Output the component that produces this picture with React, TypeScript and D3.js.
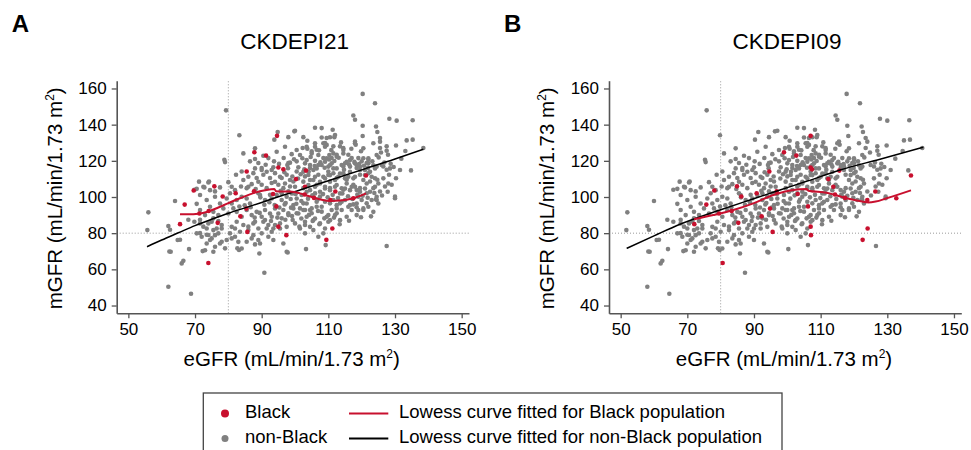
import { useEffect, useRef } from "react";
import * as d3 from "d3";

// non-Black participants: [eGFR CKDEPI21, eGFR CKDEPI09, mGFR]
const nonBlackPoints: [number, number, number][] = [
  [79.3, 75.8, 147.9], [83.3, 79.8, 134.1], [94.8, 91.3, 135.9], [93.8, 90.3, 131.7], [98, 94.5, 133.1],
  [99.8, 96.3, 136.3], [78.8, 75.3, 120.6], [79, 75.5, 119.3], [86.5, 83, 119.7], [88, 84.5, 121],
  [90.5, 87, 122.8], [92, 88.5, 121.5], [89, 85.5, 118.8], [90, 86.5, 116], [93.5, 90, 116.4],
  [98, 94.5, 118.8], [99, 95.5, 123.7], [82.3, 78.8, 112.3], [84, 80.5, 114.1], [87.5, 84, 113.2],
  [88.5, 85, 110.5], [90.5, 87, 112.3], [92.5, 89, 110.5], [94, 90.5, 113.2], [96, 92.5, 110.5],
  [97.5, 94, 112.3], [99.5, 96, 108.6], [74.2, 70.7, 108.6], [72.8, 69.3, 105.3], [70.5, 67, 104.5],
  [77.5, 74, 105.3], [76, 72.5, 103.1], [80, 76.5, 108.2], [83.8, 80.3, 105.8], [85.5, 82, 104.9],
  [87, 83.5, 107.1], [90, 86.5, 106.8], [91.5, 88, 104.9], [93, 89.5, 107.7], [95, 91.5, 106.8],
  [96.5, 93, 104.9], [98.5, 95, 105.8], [98, 94.5, 103.1], [80.5, 77, 102.1], [89, 85.5, 102.1],
  [92.5, 89, 101.2], [96, 92.5, 102.1],
  [120.3, 117.8, 157], [124, 121.8, 151.8], [117.5, 114.5, 145.1], [118, 115, 142.7], [120.3, 118, 139.4],
  [124.3, 122.3, 139], [128.3, 127.8, 143.3], [130.5, 130, 142.2], [135.3, 136.6, 142.4], [108, 105, 138.1],
  [111.3, 108.3, 137.2], [100, 97, 136.6], [102.5, 99.5, 133.1], [120.3, 118.3, 133.7], [124.7, 122.7, 135.9],
  [125.5, 123.5, 132.6], [133.5, 135, 131.3], [135.3, 136.8, 131.7], [130.3, 129.8, 128.5], [127.5, 127, 128],
  [125.5, 123.5, 127.1], [127.5, 127, 125.6], [138.5, 140.5, 127.1], [134.8, 136.3, 114.7], [130.3, 129.8, 110.4],
  [128.2, 127.7, 112.3], [129, 128.5, 106.8], [124.7, 122.7, 109.5], [122, 120, 120.6], [118, 115.5, 130.7],
  [118.2, 115.7, 128.9], [111.8, 108.8, 133.1], [111.5, 108.5, 128], [110.5, 107.5, 133], [109.5, 106.5, 132.6],
  [113.5, 110.5, 128], [114.5, 111.5, 127], [103.7, 100.7, 131.1], [102.3, 99.3, 127.1], [103.7, 100.7, 126.7],
  [106.5, 103.5, 126.1], [105, 102, 125.2], [108, 105, 132.9], [109, 106, 129.8], [111, 108, 121.5],
  [112.5, 109.5, 123.4], [116, 113, 123.4], [117, 114, 121.5], [119, 116.5, 121.5], [120, 118, 119.7],
  [121.5, 119.5, 118.8], [123.5, 121.5, 117.5], [126.5, 126, 116.9], [127.5, 127, 115.1], [124, 122, 110.4],
  [122.5, 120.5, 108.6], [127, 126.5, 105.8], [119.5, 117.5, 112.3], [118.5, 116, 116], [114.5, 111.5, 116.9],
  [108.5, 105.5, 121.5], [106, 103, 120], [104.5, 101.5, 116], [100.5, 97.5, 119.7], [100.5, 97.5, 114.1],
  [103, 100, 111.4], [107, 104, 112.3], [110, 107, 114.1], [112.5, 109.5, 110.5], [115.5, 112.5, 109.5],
  [117.5, 114.5, 106.8], [114.5, 111.5, 104], [110.5, 107.5, 104.9], [106.5, 103.5, 106.8], [102.5, 99.5, 104.9],
  [99.5, 96, 102.1], [119.5, 117.5, 104.9], [123.5, 121.5, 104.9], [121.5, 119.5, 102.1], [125.5, 124, 103],
  [112, 109, 134.3], [108.5, 105.5, 129.7], [109.5, 106.5, 128.8], [106, 103, 127.8], [125.5, 124, 130.6],
  [105, 102, 124.1], [107, 104, 123.2], [110.3, 107.3, 123.2], [111.5, 108.5, 124.1], [112.5, 109.5, 122.3],
  [114.5, 111.5, 124.1], [120.5, 118.5, 121.4], [122, 120, 118.6], [124.5, 122.5, 116.8], [126, 125, 117.7],
  [128.5, 128, 115.8], [131.5, 131, 114.9], [103, 100, 118.6], [108, 105, 117.7], [109, 106, 119.5],
  [110, 107, 116.8], [111, 108, 118.6], [112.5, 109.5, 115.8], [114, 111, 117.7], [115.5, 112.5, 119.5],
  [116.5, 113.5, 116.8], [118, 115, 118.6], [119.5, 117, 116.8], [121, 119, 114.9], [122, 120, 113.1],
  [123, 121, 111.2], [125, 123, 107.5], [126.5, 126, 110.3], [128, 127.5, 107.5], [130, 129.5, 100.2],
  [124.5, 122.5, 98.3], [102.5, 99.5, 114], [104, 101, 112.2], [105.5, 102.5, 114.9], [108.5, 105.5, 111.2],
  [110, 107, 112.2], [111.5, 108.5, 113.1], [113, 110, 111.2], [114.5, 111.5, 113.1], [116, 113, 111.2],
  [117.5, 114.5, 110.3], [120.5, 118.5, 109.4], [121.5, 119.5, 107.5], [102.5, 99.5, 108.5], [104, 101, 106.6],
  [105.5, 102.5, 109.4], [107.5, 104.5, 107.5], [109, 106, 105.7], [110.5, 107.5, 108.5], [112.5, 109.5, 106.6],
  [114, 111, 104.8], [115.5, 112.5, 107.5], [117, 114, 105.7], [118.5, 116, 103.9], [122.5, 120.5, 102.9],
  [119, 116.5, 100.2], [103.5, 100.5, 102.9], [106, 103, 102], [107.5, 104.5, 100.2], [109, 106, 97.4],
  [110.5, 107.5, 96.5], [111.5, 108.5, 98.3], [113.5, 110.5, 96.5], [115, 112, 98.3], [116.5, 113.5, 95.6],
  [118.5, 116, 94.3], [120.5, 118.5, 92.8], [121.5, 119.5, 96.5], [102.5, 99.5, 96.5], [104.5, 101.5, 92.8],
  [103.5, 100.5, 89.1], [106.5, 103.5, 94.6], [108, 105, 91.9], [109.5, 106.5, 89.1], [105.5, 102.5, 87.3],
  [103, 100, 84.5], [107.5, 104.5, 85.4], [110, 107, 86.3], [114, 111, 92.8], [112.5, 109.5, 91],
  [88, 84.5, 115.8], [90, 86.5, 114.9], [86, 82.5, 111.2], [91.5, 88, 114], [93, 89.5, 114.9],
  [97.7, 94.2, 117.7], [98.5, 95, 119], [101, 98, 116.4], [103.5, 100.5, 120.4], [106, 103, 129.7],
  [109, 106, 127.8], [107, 104, 117.7], [109.5, 106.5, 121.4], [114.5, 111.5, 126], [116.5, 113.5, 120.4],
  [118, 115, 129.7], [120.5, 118.5, 126.9], [123.5, 121.5, 129.7], [72.5, 69, 105.7], [74.5, 71, 103.8],
  [81, 77.5, 105.7], [82, 78.5, 103.8], [84.5, 81, 109.4], [86, 82.5, 105.7], [89, 85.5, 108.4],
  [94, 90.5, 108.4], [95.5, 92, 111.2], [97, 93.5, 107.5], [98.5, 95, 109.4], [100, 96.5, 105.7],
  [71.5, 68, 101.1], [73.5, 70, 98.3], [76, 72.5, 100.1], [77.5, 74, 96.4], [79.5, 76, 99.2],
  [81, 77.5, 96.4], [82.5, 79, 98.3], [84, 80.5, 100.1], [85.5, 82, 99.2], [86.5, 83, 96.4],
  [89.5, 86, 101.1], [91, 87.5, 98.3], [93, 89.5, 99.2], [94.5, 91, 101.1], [96, 92.5, 98.3],
  [97.5, 94, 100.1], [99, 95.5, 102], [100.5, 97, 99.2], [102, 99, 101.1], [71.5, 68, 92.8],
  [73, 69.5, 90], [74.5, 71, 94.6], [75.5, 72, 91.8], [77, 73.5, 90], [78.5, 75, 93.7],
  [80, 76.5, 90.9], [81.5, 78, 93.7], [82.5, 79, 91.8], [84, 80.5, 89.1], [85.5, 82, 92.8],
  [87, 83.5, 90], [88.5, 85, 91.8], [90, 86.5, 89.1], [91, 87.5, 92.8], [92.5, 89, 90.9],
  [94, 90.5, 93.7], [95, 91.5, 90.9], [96.5, 93, 92.8], [98, 94.5, 90], [99.5, 96, 93.7],
  [101, 98, 90.9], [102.5, 99.5, 92.8], [71.5, 68, 85.4], [73.5, 70, 82.6], [75, 71.5, 86.3],
  [76.5, 73, 82.6], [78, 74.5, 84.5], [81, 77.5, 83.5], [82.5, 79, 86.3], [84.5, 81, 84.5],
  [86, 82.5, 81.7], [87.5, 84, 85.4], [89, 85.5, 82.6], [90.5, 87, 86.3], [92, 88.5, 84.5],
  [93.5, 90, 82.6], [95.5, 92, 85.4], [97.5, 94, 83.5], [100, 96.5, 85.4], [101.5, 98.5, 82.6],
  [72, 68.5, 78], [74.5, 71, 76.2], [76, 72.5, 78.9], [77.5, 74, 74.3], [82, 78.5, 78],
  [83, 79.5, 75.2], [87.5, 84, 78.9], [89, 85.5, 76.2], [92, 88.5, 78], [93.5, 90, 76.2],
  [73, 69.5, 70.6], [75.5, 72, 69.7], [84, 80.5, 71.5], [89.5, 86, 74.3], [105.5, 102.5, 81.7],
  [107, 104, 78], [103, 100, 86.3], [104.5, 101.5, 83.5], [106, 103, 88.1], [109, 106, 82.6],
  [110.5, 107.5, 87.2], [112, 109, 90], [113.5, 110.5, 87.2], [115.5, 112.5, 89.1], [117, 114, 92.8],
  [118.5, 116, 90], [120.5, 118.5, 93.7], [122, 120, 94.6], [123.5, 121.5, 91.8], [125, 123, 96.4],
  [103.5, 100.5, 96.4], [105, 102, 93.7], [106.5, 103.5, 97.4], [108, 105, 94.6], [111, 108, 92.8],
  [112.5, 109.5, 95.5], [114, 111, 97.4], [116, 113, 94.6], [118.5, 116, 96.4], [120, 117.5, 98.3],
  [123, 121, 98.3], [124.5, 122.5, 100.1], [104.5, 101.5, 103.8], [106, 103, 105.7], [107.5, 104.5, 102.9],
  [109, 106, 104.7], [110.5, 107.5, 103.8], [112, 109, 105.7], [113.5, 110.5, 102], [115, 112, 104.7],
  [116.5, 113.5, 103.8], [118, 115, 105.7], [119.5, 117, 102.9], [121, 119, 104.7], [124, 122, 105.7],
  [104.5, 101.5, 109.4], [106, 103, 111.2], [107.5, 104.5, 108.4], [109, 106, 110.3], [110.5, 107.5, 112.1],
  [112, 109, 109.4], [113.5, 110.5, 113], [115, 112, 110.3], [116.5, 113.5, 114], [118, 115, 111.2],
  [119.5, 117, 114.9], [121, 119, 112.1], [122.5, 120.5, 114], [124, 122, 115.8], [104.5, 101.5, 117.7],
  [106.5, 103.5, 115.8], [110.5, 107.5, 117.7], [111.5, 108.5, 115.8], [115, 112, 118.6], [118.5, 116, 117.7],
  [122, 120, 121.4], [124.5, 122.5, 123.2], [101.5, 98.5, 123.2], [100.5, 97.5, 126], [103.5, 100.5, 127.8],
  [94.5, 91, 125], [97, 93.5, 127.8], [88, 84.5, 126.9], [84.5, 81, 124.1],
  [56, 52, 91.5], [55.7, 51.7, 81.7], [62, 58, 83.9], [62.7, 58.7, 69.7], [66, 62, 63.3],
  [66.5, 62.5, 64.7], [64.8, 60.8, 76.2], [68.2, 64.2, 71.2], [64, 60, 97.8], [62, 58, 50.4],
  [68.8, 64.6, 46.5], [69.8, 65.8, 86.3], [70.5, 67, 79.9], [72.3, 68.8, 70.1], [73.5, 70, 74.3],
  [74, 70.5, 79], [75, 71.5, 77.1], [76, 72.5, 72.5], [75.5, 72, 81.7], [77, 73.5, 79.9],
  [78, 74.5, 82.6], [78, 74.5, 75.3], [79.5, 76, 76.2], [79, 75.5, 71.6], [72.5, 69, 83.6],
  [74, 70.5, 85.4], [75.5, 72, 88.2], [77, 73.5, 86.7], [80.5, 77, 79.9], [81, 77.5, 77.1],
  [83.5, 80, 80.8], [82.7, 79.2, 71.6], [83.2, 79.7, 70.7], [85.5, 82, 75.3], [87, 83.5, 77.1],
  [88, 84.5, 73.8], [89.3, 85.8, 68.8], [90.8, 87.3, 58.1], [90, 86.5, 79.9], [91.5, 88, 82.6],
  [93, 89.5, 80.8], [94, 90.5, 84.5], [95.5, 92, 82.6], [96.5, 93, 74.3], [97.5, 94, 69.7],
  [97.8, 94.3, 69.3], [82, 78.5, 82.6], [86, 82.5, 83.6], [88, 84.5, 86.3], [91, 87.5, 87.3],
  [93, 89.5, 89.1], [96, 92.5, 88.2], [98, 94.5, 91],
  [103.3, 100.3, 71.2], [109.2, 106.2, 73.4], [127.5, 126.6, 72.9], [103, 100, 79.9], [108.5, 105.5, 79.9],
  [101.3, 98.3, 83.6], [99.3, 96, 87.3], [105.3, 102.3, 86.7], [107.3, 104.3, 84.9], [110, 107, 90],
  [112.5, 109.5, 93.7], [117.5, 114.5, 95.9], [119, 116.5, 92.8], [124.3, 122.3, 98.7], [130, 129.5, 99.3],
  [103, 100, 92.8], [105, 102, 91], [99.5, 96, 95.6], [101.5, 98.5, 93.7], [100.5, 97.5, 91],
  [69.8, 65.8, 104], [71.2, 67.7, 108.5], [74, 70.5, 108], [70.5, 67, 96.2], [71.5, 68, 87.4],
  [68, 64, 87.4], [71.5, 68, 80], [73.5, 70, 79.1], [65.5, 61.5, 76.4], [62.5, 58.5, 81.9],
  [62.3, 58.3, 69.9], [106, 103, 138.3],
  [96.8, 93.2, 113.7], [97.9, 94.4, 115.9], [99.2, 95.9, 111.3], [100.9, 97.9, 110.2], [101.7, 98.7, 112.6],
  [102.8, 99.8, 115.3], [104.1, 101.1, 113.9], [105.9, 102.9, 117.1], [107.6, 104.6, 119.2], [108.9, 105.9, 116.2],
  [110.2, 107.2, 120.8], [111.8, 108.8, 119.9], [113.1, 110.1, 121.7], [114.7, 111.7, 115.1], [116.2, 113.2, 118.1],
  [117.8, 115.3, 119.4], [119.2, 116.9, 118.2], [120.7, 118.7, 117.3], [121.9, 119.9, 116.1], [123.2, 121.2, 119.8],
  [125.1, 123.1, 121.9], [126.8, 126.3, 119.1], [128.7, 128.2, 118.4], [129.6, 129.1, 116.6], [131.9, 132.4, 121.2],
  [133.1, 134.6, 125.4], [127.9, 127.4, 123.4], [125.8, 124.8, 124.6], [119.8, 117.8, 125.3], [116.9, 114.4, 126.7],
  [113.8, 110.8, 130.2], [110.9, 107.9, 125.9], [107.2, 104.2, 125.8], [104.7, 101.7, 122.1], [102.2, 99.2, 121.4],
  [99.7, 96.4, 120.9], [96.6, 93.1, 121.6], [95.2, 91.7, 118.3], [93.7, 90.2, 119.7], [91.2, 87.7, 117.8],
  [95.7, 92.2, 103.4], [97.2, 93.7, 96.7], [98.7, 95.2, 98.9], [100.2, 96.9, 101.7], [101.9, 98.9, 97.8],
  [103.9, 100.9, 99.1], [105.2, 102.2, 100.9], [106.8, 103.8, 98.6], [108.4, 105.4, 101.6], [109.8, 106.8, 99.8],
  [111.3, 108.3, 101.2], [112.9, 109.9, 99.4], [114.2, 111.2, 101.9], [115.9, 112.9, 100.4], [117.2, 114.7, 98.9],
  [118.7, 116.2, 101.4], [120.3, 118, 100.7], [121.8, 119.8, 99.6], [123.8, 121.8, 102.2], [126.1, 125.1, 100.8],
  [127.8, 127.3, 102.9], [88.2, 84.7, 104.4], [89.6, 86.1, 99.8], [90.8, 87.3, 95.7], [92.3, 88.8, 97.1],
  [93.9, 90.4, 95.6], [95.3, 91.8, 94.2], [96.9, 93.4, 95.9], [98.8, 95.3, 94.1], [100.4, 97.1, 96.3],
  [86.7, 83.2, 94.3], [84.9, 81.4, 95.4], [83.3, 79.8, 94.7], [87.9, 84.4, 88.6], [89.4, 85.9, 91.2],
  [92.8, 89.3, 86.7], [94.7, 91.2, 88.6], [97.1, 93.6, 87.4], [99.1, 95.6, 89.5], [101.9, 98.9, 88.1],
  [104.2, 101.2, 90.1], [106.9, 103.9, 92.3], [108.8, 105.8, 88.2], [111.7, 108.7, 88.6], [113.4, 110.4, 84.9],
  [116.2, 113.2, 86.9], [119.8, 117.3, 88.8], [122.8, 120.8, 89.3],
];

// Black participants: [eGFR CKDEPI21, eGFR CKDEPI09, mGFR]
const blackPoints: [number, number, number][] = [
  [65.5, 72.1, 85], [66.9, 75.7, 95.8], [69.6, 78.1, 103.6], [71.3, 79.5, 90.9], [74.1, 83.3, 92.3],
  [74, 80.6, 63.5], [75.8, 84.9, 105.9], [76.8, 85.3, 85.7], [78.3, 86.2, 100.3], [82.2, 90.8, 102.1],
  [83.6, 92.3, 89.3], [85.5, 94.6, 114.1], [85.4, 94.8, 93.6], [85.7, 95.6, 80.7], [87.8, 99, 124.7],
  [87.7, 96.8, 103.2], [91.3, 102.7, 122.9], [94.6, 107, 133.8], [95, 107, 116.3], [93.4, 103.1, 101.7],
  [94.4, 106.2, 94.8], [95, 107, 83.6], [96.5, 107.4, 115.3], [97.4, 107.1, 78.9], [100.3, 112.3, 109.9],
  [103.3, 115.6, 114.6], [103, 113.8, 105.7], [102.9, 114.3, 101.4], [105.7, 117.3, 99.5], [109.4, 122.6, 76.3],
  [111.2, 124.1, 82.6], [112.1, 126.4, 103], [117.5, 132.7, 99.3], [121.3, 137.1, 111.9], [110.6, 124, 98.3],
];

// lowess curves: [eGFR, mGFR]
const lowessNonBlack21: [number, number][] = [
  [55.6, 72.5], [60, 76.2], [65, 80.2], [70, 84.2], [75, 87.7], [80, 91], [85, 94], [90, 97],
  [95, 100.1], [101.5, 103.9], [110, 109], [120, 115], [130, 121], [138.5, 126.4],
];
const lowessBlack21: [number, number][] = [
  [65.5, 90.5], [68, 90.4], [71, 90.7], [74, 92], [77, 94.2], [80, 96.6], [83.5, 99.3], [88, 102.4],
  [91, 103.7], [93.8, 104.4], [94.3, 103.2], [96, 103], [98.5, 103], [101.5, 102], [103.5, 100.8],
  [105.5, 99.7], [108, 98.5], [110.5, 97.8], [113.5, 98], [117.5, 99.3], [121.3, 102],
];
const lowessNonBlack09: [number, number][] = [
  [51.8, 71.6], [60, 78.5], [67.8, 84.9], [79.8, 92.8], [89, 98.5], [97.8, 103.9], [106, 108.8],
  [115.8, 114.9], [127.8, 120.9], [140.8, 127.5],
];
const lowessBlack09: [number, number][] = [
  [72, 87.7], [77.8, 90], [83.8, 92.8], [89.8, 96.5], [95.8, 101.1], [101.8, 103.9], [105.8, 104.4],
  [106.3, 103.5], [111.8, 102.4], [117.8, 99.3], [122.8, 97.4], [124.3, 97], [126.5, 97.5],
  [129.8, 99.3], [137.1, 103.7],
];

const xTicks = [50, 70, 90, 110, 130, 150];
const yTicks = [40, 60, 80, 100, 120, 140, 160];

const FONT = "'Liberation Sans', Arial, Helvetica, sans-serif";
const RED = "#c8102e";
const GREY = "#808080";

function App() {
  const svgRef = useRef<SVGSVGElement>(null);

  useEffect(() => {
    const svg = d3.select(svgRef.current);
    svg.selectAll("*").remove();

    const y = d3.scaleLinear().domain([35.7, 164.3]).range([313.3, 80.7]);

    const drawPanel = (
      left: number,
      letter: string,
      title: string,
      col: number,
      lowBlack: [number, number][],
      lowNon: [number, number][]
    ) => {
      const x = d3.scaleLinear().domain([46.5, 152.2]).range([left, left + 352.3]);
      const g = svg.append("g");
      const mid = left + 176;

      // reference lines at 80
      g.append("line")
        .attr("x1", x.range()[0]).attr("x2", x.range()[1])
        .attr("y1", y(80)).attr("y2", y(80))
        .attr("stroke", "#9a9a9a").attr("stroke-width", 1).attr("stroke-dasharray", "1 2");
      g.append("line")
        .attr("x1", x(80)).attr("x2", x(80))
        .attr("y1", y.range()[0]).attr("y2", y.range()[1])
        .attr("stroke", "#9a9a9a").attr("stroke-width", 1).attr("stroke-dasharray", "1 2");

      // points
      g.append("g").selectAll("circle").data(nonBlackPoints).enter().append("circle")
        .attr("cx", (d) => x(d[col])).attr("cy", (d) => y(d[2])).attr("r", 2.3).attr("fill", GREY);
      g.append("g").selectAll("circle").data(blackPoints).enter().append("circle")
        .attr("cx", (d) => x(d[col])).attr("cy", (d) => y(d[2])).attr("r", 2.3).attr("fill", RED);

      const line = d3.line<[number, number]>().x((d) => x(d[0])).y((d) => y(d[1])).curve(d3.curveMonotoneX);
      g.append("path").attr("d", line(lowNon)).attr("fill", "none").attr("stroke", "#000").attr("stroke-width", 1.5);
      g.append("path").attr("d", line(lowBlack)).attr("fill", "none").attr("stroke", RED).attr("stroke-width", 2);

      // axes
      const ax = g.append("g").attr("transform", `translate(0,${y.range()[0]})`)
        .call(d3.axisBottom(x).tickValues(xTicks).tickSize(5).tickSizeOuter(0).tickPadding(5));
      const ay = g.append("g").attr("transform", `translate(${left},0)`)
        .call(d3.axisLeft(y).tickValues(yTicks).tickSize(5).tickSizeOuter(0).tickPadding(5));
      [ax, ay].forEach((a) => {
        a.select(".domain").attr("stroke", "#555").attr("stroke-width", 1.6);
        a.selectAll(".tick line").attr("stroke", "#555").attr("stroke-width", 1.3);
        a.selectAll(".tick text").attr("fill", "#000").style("font-family", FONT).style("font-size", "17px");
      });

      // labels
      g.append("text").attr("x", left - 105).attr("y", 32.3).text(letter)
        .style("font-family", FONT).style("font-size", "24px").style("font-weight", "bold");
      g.append("text").attr("x", mid + 2).attr("y", 49.3).attr("text-anchor", "middle").text(title)
        .style("font-family", FONT).style("font-size", "22.5px");

      const xt = g.append("text").attr("x", mid - 1).attr("y", 366).attr("text-anchor", "middle")
        .style("font-family", FONT).style("font-size", "20.5px");
      xt.append("tspan").text("eGFR (mL/min/1.73 m");
      xt.append("tspan").attr("dy", -8).style("font-size", "12px").text("2");
      xt.append("tspan").attr("dy", 8).text(")");

      const yt = g.append("text").attr("transform", `translate(${left - 55},198.3) rotate(-90)`)
        .attr("text-anchor", "middle").style("font-family", FONT).style("font-size", "20.5px");
      yt.append("tspan").text("mGFR (mL/min/1.73 m");
      yt.append("tspan").attr("dy", -8).style("font-size", "12px").text("2");
      yt.append("tspan").attr("dy", 8).text(")");
    };

    drawPanel(116.7, "A", "CKDEPI21", 0, lowessBlack21, lowessNonBlack21);
    drawPanel(609, "B", "CKDEPI09", 1, lowessBlack09, lowessNonBlack09);

    // legend
    const lg = svg.append("g");
    lg.append("rect").attr("x", 203.3).attr("y", 393).attr("width", 578.7).attr("height", 70)
      .attr("fill", "none").attr("stroke", "#444").attr("stroke-width", 1.3);
    const rows = [
      { dot: RED, r: 4, label: "Black", lineColor: RED, lineLabel: "Lowess curve fitted for Black population" },
      { dot: GREY, r: 3.5, label: "non-Black", lineColor: "#000", lineLabel: "Lowess curve fitted for non-Black population" },
    ];
    rows.forEach((row, i) => {
      const cy = 413.5 + i * 25;
      lg.append("circle").attr("cx", 225).attr("cy", cy).attr("r", row.r).attr("fill", row.dot);
      lg.append("text").attr("x", 245).attr("y", cy + 4.8).text(row.label)
        .style("font-family", FONT).style("font-size", "18.5px");
      lg.append("line").attr("x1", 349).attr("x2", 388.3).attr("y1", cy).attr("y2", cy)
        .attr("stroke", row.lineColor).attr("stroke-width", 2);
      lg.append("text").attr("x", 399).attr("y", cy + 4.8).text(row.lineLabel)
        .style("font-family", FONT).style("font-size", "18.5px");
    });
  }, []);

  return (
    <svg
      ref={svgRef}
      width={971}
      height={450}
      style={{ position: "absolute", left: 0, top: 0, background: "#fff" }}
    />
  );
}

export default App;
